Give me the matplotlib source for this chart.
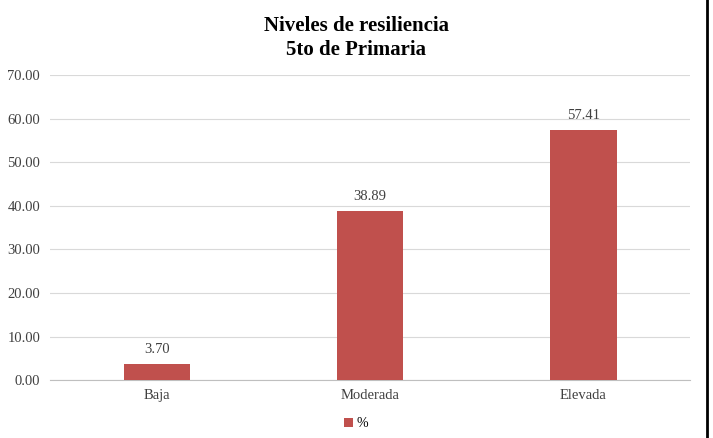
import matplotlib.pyplot as plt
from matplotlib.lines import Line2D

# data
categorias = ["Baja", "Moderada", "Elevada"]
porcentajes = [3.70, 38.89, 57.41]
yticks = [0, 10, 20, 30, 40, 50, 60, 70]

plt.rcParams['font.family'] = ['Liberation Serif', 'DejaVu Serif']

fig = plt.figure(figsize=(7.13, 4.38), dpi=100)
ax = fig.add_axes([0.070, 0.132, 0.898, 0.697])

x = range(len(categorias))
bars = ax.bar(x, porcentajes, width=0.31, color="#C0504D", label="%", zorder=3)

for b, v in zip(bars, porcentajes):
    ax.text(b.get_x() + b.get_width() / 2, v + 1.8, f"{v:.2f}",
            ha="center", va="bottom", fontsize=10.5, color="#404040")

ax.set_xlim(-0.5, 2.5)
ax.set_ylim(0, 70)
ax.set_yticks(yticks)
ax.set_yticklabels([f"{t:.2f}" for t in yticks], fontsize=10.5, color="#404040")
ax.set_xticks(list(x))
ax.set_xticklabels(categorias, fontsize=10.5, color="#404040")
ax.tick_params(axis="y", length=0, pad=7)
ax.tick_params(axis="x", length=0, pad=6)

ax.grid(axis="y", color="#D9D9D9", linewidth=0.8, zorder=0)
for s in ["top", "right", "left"]:
    ax.spines[s].set_visible(False)
ax.spines["bottom"].set_color("#BFBFBF")

fig.suptitle("Niveles de resiliencia\n5to de Primaria", y=0.963,
             fontsize=15, fontweight="bold", linespacing=1.25)

fig.legend(loc="center", bbox_to_anchor=(0.5, 0.032), frameon=False,
           fontsize=10, handlelength=0.6, handleheight=0.6, handletextpad=0.3)

# border line on the right edge
fig.add_artist(Line2D([0.992, 0.992], [0, 1], transform=fig.transFigure,
                      color="black", linewidth=2))

fig.savefig("out.png", dpi=100)
